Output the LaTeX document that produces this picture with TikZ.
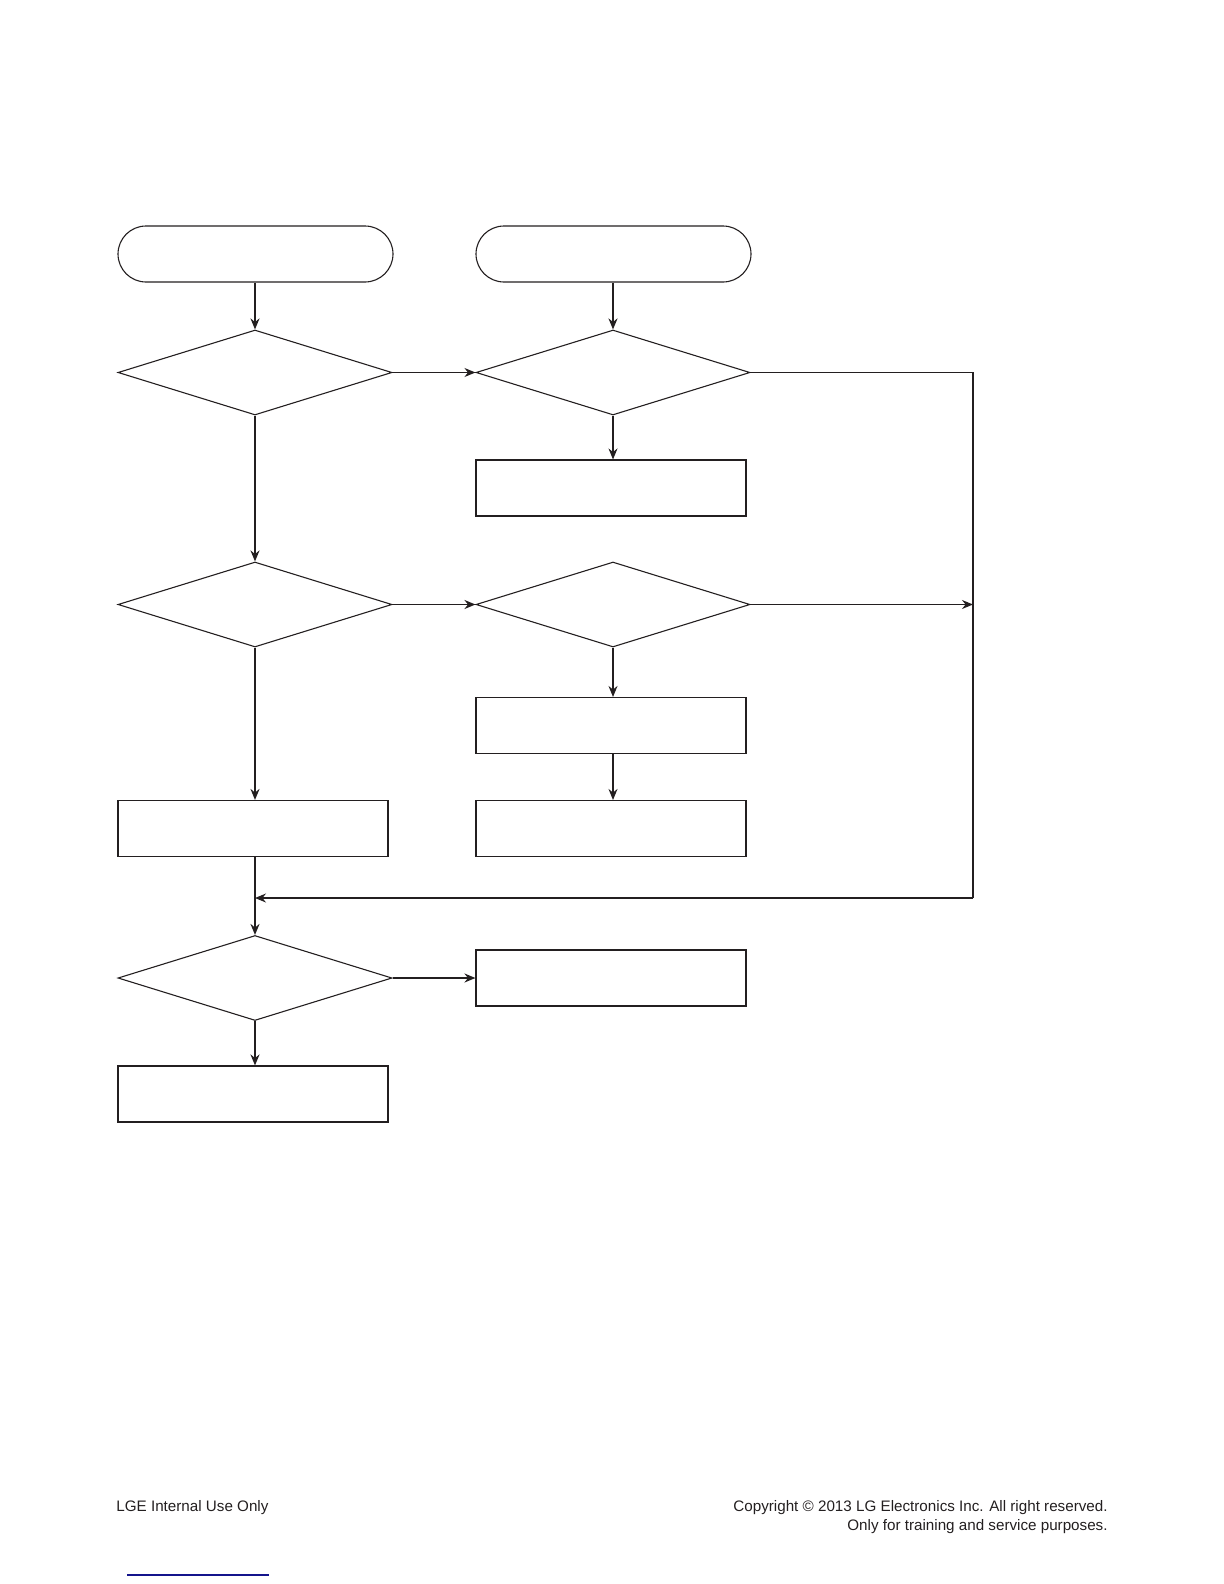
\documentclass[tikz,border=0pt]{standalone}
\usepackage{fontspec}
\setmainfont{Liberation Sans}
\usetikzlibrary{shapes.geometric,shapes.misc,arrows.meta}
\definecolor{ink}{RGB}{35,31,32}
\definecolor{linkblue}{RGB}{20,20,140}
\tikzset{
  shp/.style={draw=ink, line width=0.55pt, inner sep=0pt},
  term/.style={shp, rounded rectangle, minimum width=137.5pt, minimum height=28pt},
  dec/.style={shp, diamond, minimum width=137pt, minimum height=42.5pt},
  proc/.style={shp, rectangle, minimum width=135pt, minimum height=28pt},
  thk/.style={draw=ink, line width=0.95pt, -{Stealth[length=5.5pt,width=4.5pt]}},
  thn/.style={draw=ink, line width=0.55pt, -{Stealth[length=5.5pt,width=4.5pt]}},
  plain/.style={draw=ink, line width=0.55pt},
  foot/.style={inner sep=0pt, font=\fontsize{7.6pt}{9.5pt}\selectfont, text=ink}
}
\begin{document}
\begin{tikzpicture}[x=0.5pt,y=-0.5pt]
\useasboundingbox (0,0) rectangle (1224,1584);
\node[term] (t1) at (255.5,254) {};
\node[term] (t2) at (613.5,254) {};
\node[dec] (d1) at (255,372.5) {};
\node[dec] (d2) at (613,372.5) {};
\node[proc] (a) at (611,488) {};
\node[dec] (d3) at (255,604.5) {};
\node[dec] (d4) at (613,604.5) {};
\node[proc] (b) at (611,725.5) {};
\node[proc] (c) at (611,828.5) {};
\node[proc] (bd) at (253,828.5) {};
\node[dec] (d5) at (255,978) {};
\node[proc] (e) at (611,978) {};
\node[proc] (f) at (253,1094) {};
\coordinate (r1) at (973,372.5);
\coordinate (r2) at (973,898);
% connectors
\draw[thk] (t1.south -| d1.north) -- (d1.north);
\draw[thk] (t2.south -| d2.north) -- (d2.north);
\draw[thn] (d1.east) -- (d2.west);
\draw[thn] (d2.south) -- (d2.south |- a.north);
\draw[plain] (d2.east) -- (r1) -- (r2);
\draw[thn] (r2) -- (r2 -| d1.south);
\draw[thk] (d1.south) -- (d3.north);
\draw[thk] (d3.east) -- (d4.west);
\draw[thn] (d4.east) -- (d4.east -| r1);
\draw[thn] (d4.south) -- (d4.south |- b.north);
\draw[thn] (b.south -| d4.south) -- (c.north -| d4.south);
\draw[thk] (d3.south) -- (d3.south |- bd.north);
\draw[thk] (bd.south -| d5.north) -- (d5.north);
\draw[thk] (d5.east) -- (e.west);
\draw[thk] (d5.south) -- (d5.south |- f.north);
% footer
\node[foot, anchor=base west] (lge) at (116,1511) {LGE Internal Use Only};
\node[foot, anchor=base east] (cp1) at (1108,1511) {Copyright © 2013 LG Electronics Inc. All right reserved.};
\node[foot, anchor=base east] (cp2) at (1108,1530) {Only for training and service purposes.};
\coordinate (u1) at (127,1575);
\coordinate (u2) at (269,1575);
\draw[draw=linkblue, line width=0.6pt] (u1) -- (u2);
\end{tikzpicture}
\end{document}
